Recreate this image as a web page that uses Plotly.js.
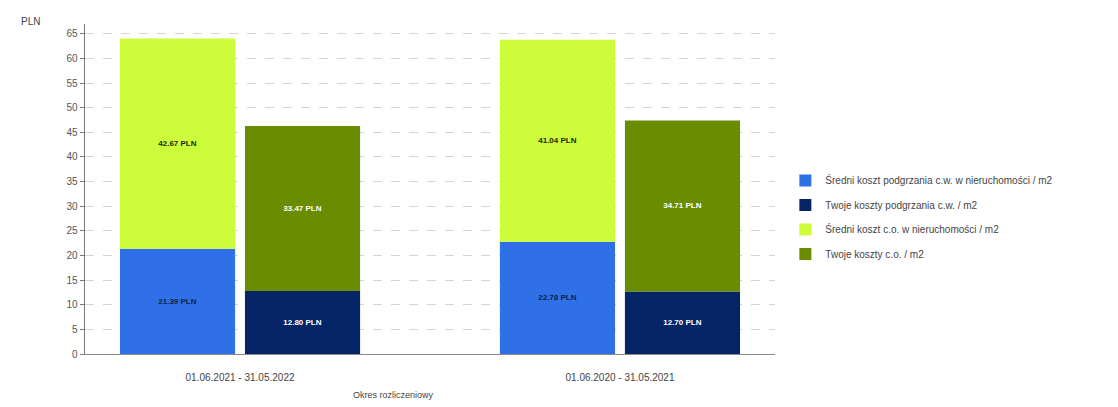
<!DOCTYPE html>
<html>
<head>
<meta charset="utf-8">
<script src="https://cdn.plot.ly/plotly-3.0.1.min.js"></script>
<style>html,body{margin:0;padding:0;background:#fff;}#chart{width:1118px;height:407px;}</style>
</head>
<body>
<div id="chart"></div>
<script>
const categories = ["01.06.2021 - 31.05.2022", "01.06.2020 - 31.05.2021"];
const avgHotWater = [21.39, 22.78];
const yourHotWater = [12.80, 12.70];
const avgHeating = [42.67, 41.04];
const yourHeating = [33.47, 34.71];
const seriesNames = [
  "Średni koszt podgrzania c.w. w nieruchomości / m2",
  "Twoje koszty podgrzania c.w. / m2",
  "Średni koszt c.o. w nieruchomości / m2",
  "Twoje koszty c.o. / m2"
];
const yTicks = [0,5,10,15,20,25,30,35,40,45,50,55,60,65];

const fmt = v => v.toFixed(2) + " PLN";
const W = 0.303;
const OFF_L = -0.316, OFF_R = 0.013;
const font = "Liberation Sans, Arial, sans-serif";

function bar(name, y, base, color, textColor, offset, group) {
  return {
    type: "bar", name: name, x: categories, y: y, base: base,
    offset: offset, width: W,
    marker: {color: color, line: {width: 0}},
    text: y.map(fmt), textposition: "inside", insidetextanchor: "middle",
    textangle: 0,
    textfont: {family: font, size: 8, color: textColor, weight: "bold"},
    hoverinfo: "skip", legendgroup: group
  };
}

const traces = [
  bar(seriesNames[0], avgHotWater, avgHotWater.map(()=>0), "#2f70e8", "#0b1f4d", OFF_L, "a"),
  bar(seriesNames[1], yourHotWater, yourHotWater.map(()=>0), "#052566", "#ffffff", OFF_R, "b"),
  bar(seriesNames[2], avgHeating, avgHotWater, "#ccfc3a", "#1a2a00", OFF_L, "c"),
  bar(seriesNames[3], yourHeating, yourHotWater, "#6a8c00", "#ffffff", OFF_R, "d")
];

const layout = {
  width: 1118, height: 407,
  margin: {l: 85, r: 343, t: 24, b: 53},
  paper_bgcolor: "#fff", plot_bgcolor: "#fff",
  barmode: "overlay",
  showlegend: true,
  font: {family: font, size: 10, color: "#444"},
  xaxis: {
    type: "category", range: [-0.408, 1.408],
    showgrid: false, zeroline: false,
    showline: true, linecolor: "#888", linewidth: 1,
    ticks: "outside", ticklen: 14, tickcolor: "rgba(0,0,0,0)",
    tickfont: {size: 10, color: "#444"},
    fixedrange: true
  },
  yaxis: {
    range: [0, 67], tickvals: yTicks, ticktext: yTicks.map(String),
    showgrid: true, gridcolor: "#d4d4d4", griddash: "dash", gridwidth: 1,
    zeroline: false, showline: true, linecolor: "#777", linewidth: 1.5,
    ticks: "outside", ticklen: 4, tickcolor: "#777",
    tickfont: {size: 10, color: "#555"}, fixedrange: true
  },
  legend: {
    x: 1.015, xanchor: "left", y: 0.57, yanchor: "top",
    font: {size: 10, color: "#444"}, tracegroupgap: 5.5,
    traceorder: "grouped", bgcolor: "rgba(0,0,0,0)"
  },
  annotations: [
    {text: "PLN", xref: "paper", yref: "paper", x: -0.095, y: 0.985, xanchor: "left", yanchor: "bottom",
     showarrow: false, font: {size: 10, color: "#444"}},
    {text: "Okres rozliczeniowy", xref: "paper", yref: "paper", x: 0.447, y: -0.125, xanchor: "center", yanchor: "middle",
     showarrow: false, font: {size: 9, color: "#444"}}
  ]
};

Plotly.newPlot("chart", traces, layout, {displayModeBar: false, staticPlot: true});
</script>
</body>
</html>
